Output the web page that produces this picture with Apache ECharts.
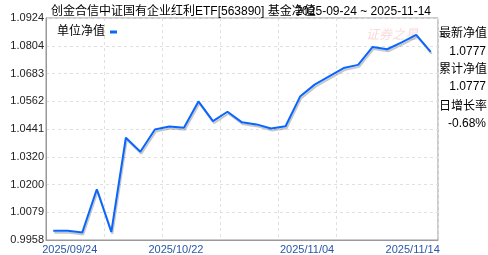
<!DOCTYPE html>
<html>
<head>
<meta charset="utf-8">
<script src="https://cdn.jsdelivr.net/npm/echarts@6/dist/echarts.min.js"></script>
<style>
html,body{margin:0;padding:0;background:#fff;}
#c{width:488px;height:255px;}
</style>
</head>
<body>
<div id="c"></div>
<script>
// ---- data ----
const dates = ['2025/09/24','2025/09/26','2025/09/30','2025/10/10','2025/10/15','2025/10/16','2025/10/17','2025/10/20','2025/10/21','2025/10/22','2025/10/23','2025/10/24','2025/10/27','2025/10/28','2025/10/29','2025/10/30','2025/10/31','2025/11/03','2025/11/04','2025/11/05','2025/11/06','2025/11/07','2025/11/10','2025/11/11','2025/11/12','2025/11/13','2025/11/14'];
const navValues = [0.9998,0.9998,0.9991,1.0179,0.9993,1.0403,1.0342,1.0439,1.0452,1.0446,1.0561,1.0475,1.0516,1.0470,1.0461,1.0443,1.0453,1.0582,1.0634,1.0670,1.0706,1.0720,1.0798,1.0788,1.0818,1.0851,1.0777];
const yTickLabels = ['0.9958','1.0079','1.0200','1.0320','1.0441','1.0562','1.0683','1.0804','1.0924'];
const shownDateLabels = ['2025/09/24','2025/10/22','2025/11/04','2025/11/14'];
const seriesName = '单位净值';
const titleText = '创金合信中证国有企业红利ETF[563890] 基金净值';
const rangeText = '2025-09-24 ~ 2025-11-14';
const sideLabels = ['最新净值','1.0777','累计净值','1.0777','日增长率','-0.68%'];

// ---- chart ----
const yMin = 0.9958, yMax = 1.0924, yStep = (yMax - yMin) / 8;
const labelPad = {'2025/09/24':[0,0,0,33],'2025/10/22':[0,16,0,0],'2025/11/04':[0,15,0,0],'2025/11/14':[0,36,0,0]};
const xData = dates.map(d => labelPad[d] ? {value:d, textStyle:{padding:labelPad[d]}} : d);
const splitIdx = [4,8,12,16,20];
const font = 'Arial, "Liberation Sans", "Noto Sans CJK SC", sans-serif';

const sideY = [35,53,71,88,108,125];
const graphics = sideLabels.map((t,i)=>({
  type:'text', right: (i%2===0)? 1 : 2, top: sideY[i]-7,
  style:{text:t, font:'12px '+font, fill:'#000'}
}));
graphics.push({type:'text', left:366, top:28, style:{text:'证券之星', font:'italic 13px "Noto Sans CJK SC"', fill:'rgba(235,120,120,0.28)'}});

const chart = echarts.init(document.getElementById('c'), null, {renderer:'canvas'});
chart.setOption({
  animation:false,
  backgroundColor:'#fff',
  title:[
    {text:titleText, left:46, top:1, textStyle:{fontSize:12, fontWeight:'normal', color:'#000', fontFamily:font}},
    {text:rangeText, right:52, top:1, textStyle:{fontSize:12, fontWeight:'normal', color:'#000', fontFamily:font}}
  ],
  legend:{
    data:[seriesName], left:52, top:21, align:'right', icon:'rect', itemWidth:7, itemHeight:3, itemGap:4,
    textStyle:{fontSize:12, color:'#000', fontFamily:font, padding:[0,0,0,0]}
  },
  grid:{left:46, right:50, top:18, bottom:14, show:true, borderColor:'#999', borderWidth:1, containLabel:false},
  xAxis:{
    type:'category', data:xData, boundaryGap:true,
    axisLine:{show:true, lineStyle:{color:'#999'}},
    axisTick:{show:false},
    axisLabel:{
      interval:(i)=>shownDateLabels.includes(dates[i]),
      margin:4, fontSize:11, color:'#2858a8', fontFamily:font
    },
    splitLine:{show:true, interval:(i)=>splitIdx.includes(i), lineStyle:{color:'#e0e0e0', type:[3,3]}}
  },
  yAxis:{
    type:'value', min:yMin, max:yMax, interval:yStep,
    axisLine:{show:true, lineStyle:{color:'#999'}},
    axisTick:{show:false},
    axisLabel:{
      margin:2, fontSize:11, color:'#222', fontFamily:font,
      formatter:(v)=>yTickLabels[Math.round((v-yMin)/yStep)] || ''
    },
    splitLine:{show:true, lineStyle:{color:'#e0e0e0', type:[3,3]}}
  },
  series:[{
    name:seriesName, type:'line', data:navValues, symbol:'none', smooth:false,
    itemStyle:{color:'#0866ff'},
    lineStyle:{color:'#0866ff', width:2, shadowColor:'rgba(0,0,0,0.22)', shadowBlur:0, shadowOffsetX:1, shadowOffsetY:2}
  }],
  graphic:graphics
});
</script>
</body>
</html>
